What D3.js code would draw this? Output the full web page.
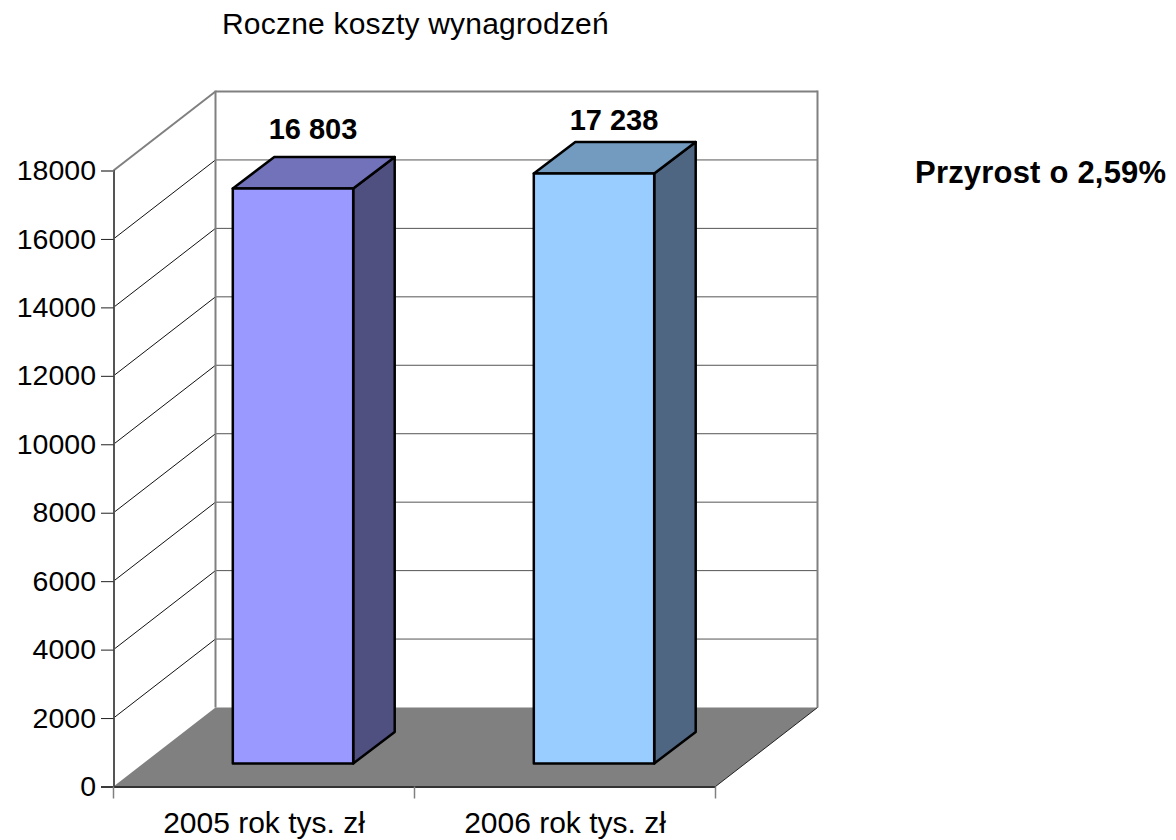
<!DOCTYPE html>
<html>
<head>
<meta charset="utf-8">
<script src="https://cdnjs.cloudflare.com/ajax/libs/d3/7.8.5/d3.min.js"></script>
<style>
  html, body { margin: 0; padding: 0; background: #fff; }
  text { font-family: "Liberation Sans", Arial, sans-serif; fill: #000; }
</style>
</head>
<body>
<div id="chart"></div>
<script>
var categories = ["2005 rok tys. zł", "2006 rok tys. zł"],
    values = [16803, 17238],
    value_labels = ["16 803", "17 238"],
    tick_values = [0, 2000, 4000, 6000, 8000, 10000, 12000, 14000, 16000, 18000],
    front_colors = ["#9999ff", "#99ccff"],
    top_colors = ["#7272bb", "#729bbf"],
    side_colors = ["#4f4f80", "#4f6682"],
    title = "Roczne koszty wynagrodzeń",
    note = "Przyrost o 2,59%";

var width = 1176,
    height = 840;

var svg = d3.select("#chart")
  .append("svg")
  .attr("width", width)
  .attr("height", height)
  .style("display", "block");

// front plane of the box
var x = d3.scaleBand().domain(categories).range([113.5, 715.5]);
var y = d3.scaleLinear().domain([0, 18000]).range([786.5, 170.5]);

// 3d offset of the back wall
var depth_x = 102,
    depth_y = -79;

var right = x.range()[1],
    left = x.range()[0];

function poly(pts) {
  return d3.line()(pts) + "Z";
}

// floor
svg.append("path")
  .attr("d", poly([[left, y(0)], [right, y(0)], [right + depth_x, y(0) + depth_y], [left + depth_x, y(0) + depth_y]]))
  .attr("fill", "#808080");

// horizontal grid on the back wall, diagonals on the left wall
tick_values.slice(1).forEach(function(t) {
  var top = t === 18000;
  svg.append("line")
    .attr("x1", left + depth_x).attr("x2", right + depth_x)
    .attr("y1", y(t) + depth_y).attr("y2", y(t) + depth_y)
    .attr("stroke", top ? "#808080" : "#555")
    .attr("stroke-width", top ? 2 : 1);
  svg.append("line")
    .attr("x1", left).attr("x2", left + depth_x)
    .attr("y1", y(t)).attr("y2", y(t) + depth_y)
    .attr("stroke", top ? "#808080" : "#111")
    .attr("stroke-width", top ? 2 : 1);
});

// back wall verticals
[left + depth_x, right + depth_x].forEach(function(px) {
  svg.append("line")
    .attr("x1", px).attr("x2", px)
    .attr("y1", y(18000) + depth_y - 1).attr("y2", y(0) + depth_y)
    .attr("stroke", "#808080")
    .attr("stroke-width", 2);
});

// right floor edge
svg.append("line")
  .attr("x1", right).attr("x2", right + depth_x)
  .attr("y1", y(0)).attr("y2", y(0) + depth_y)
  .attr("stroke", "#222");

// y axis
var yAxis = svg.append("g")
  .attr("transform", "translate(" + left + ",0)")
  .call(d3.axisLeft(y).tickValues(tick_values).tickFormat(d3.format("d")).tickSize(12.5).tickPadding(5));
yAxis.select(".domain").attr("stroke", "#555").attr("stroke-width", 2);
yAxis.selectAll(".tick line")
  .attr("stroke", function(d) { return d === 18000 ? "#808080" : "#222"; })
  .attr("stroke-width", function(d) { return d === 18000 ? 2 : 1; });
yAxis.selectAll("text").style("font-size", "28.5px").attr("fill", "#000");

// x axis
var xAxis = svg.append("g")
  .attr("transform", "translate(0," + y(0) + ")")
  .call(d3.axisBottom(x).tickSize(0).tickPadding(25));
xAxis.select(".domain").attr("stroke", "#333").attr("stroke-width", 2);
xAxis.selectAll("text")
  .style("font-size", "30px")
  .attr("fill", "#000");
d3.range(categories.length + 1).forEach(function(i) {
  var px = left + i * x.step();
  xAxis.append("line")
    .attr("x1", px).attr("x2", px)
    .attr("y1", 0).attr("y2", 12)
    .attr("stroke", "#808080")
    .attr("stroke-width", 1.5);
});

// bars
var bar_w = x.step() * 0.4,
    bar_x = function(c) { return x(c) + x.step() * 0.3 + 29; },
    bar_dy = -23,
    side_x = 41.5,
    side_y = -31.5;

categories.forEach(function(c, i) {
  var x0 = bar_x(c),
      x1 = x0 + bar_w,
      yb = y(0) + bar_dy,
      yt = y(values[i]) + bar_dy;
  var g = svg.append("g")
    .attr("stroke", "#000")
    .attr("stroke-width", 2.5)
    .attr("stroke-linejoin", "round");
  g.append("path")
    .attr("d", poly([[x1, yb], [x1 + side_x, yb + side_y], [x1 + side_x, yt + side_y], [x1, yt]]))
    .attr("fill", side_colors[i]);
  g.append("path")
    .attr("d", poly([[x0, yt], [x1, yt], [x1 + side_x, yt + side_y], [x0 + side_x, yt + side_y]]))
    .attr("fill", top_colors[i]);
  g.append("rect")
    .attr("x", x0).attr("y", yt)
    .attr("width", bar_w).attr("height", yb - yt)
    .attr("fill", front_colors[i]);
  // the first label sits a bit higher above its bar than the second
  svg.append("text")
    .attr("x", x0 + bar_w / 2 + 20)
    .attr("y", yt + side_y - (i === 0 ? 18 : 12))
    .attr("text-anchor", "middle")
    .style("font-size", "29px")
    .style("font-weight", "bold")
    .text(value_labels[i]);
});

svg.append("text")
  .attr("x", 222).attr("y", 34)
  .style("font-size", "30px")
  .style("letter-spacing", "0.2px")
  .text(title);

svg.append("text")
  .attr("x", 915).attr("y", 183)
  .style("font-size", "31px")
  .style("letter-spacing", "0.2px")
  .style("font-weight", "bold")
  .text(note);
</script>
</body>
</html>
